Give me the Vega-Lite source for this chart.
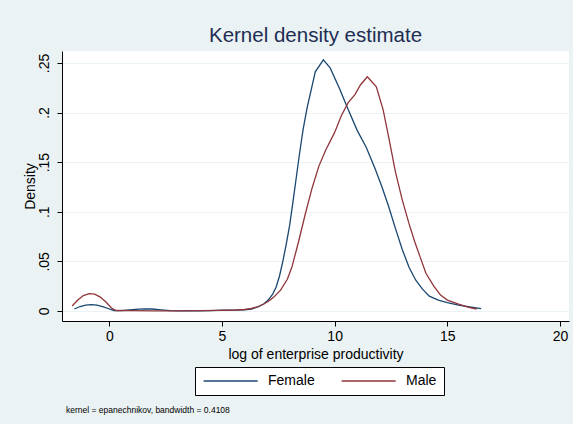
{
  "$schema": "https://vega.github.io/schema/vega-lite/v6.json",
  "background": "#EAF2F3",
  "padding": {"left": 23, "top": 25, "right": 4, "bottom": 10},
  "title": {"text": "kernel = epanechnikov, bandwidth = 0.4108", "orient": "bottom", "anchor": "start", "frame": "group", "dx": 4, "offset": 10, "fontSize": 8.5, "font": "Liberation Sans", "fontWeight": "normal", "color": "#000000"},
  "config": {
    "font": "Liberation Sans",
    "view": {"fill": "#FFFFFF", "stroke": null}
  },
  "vconcat": [
    {
      "title": {"text": "Kernel density estimate", "fontSize": 20.5, "font": "Liberation Sans", "fontWeight": "normal", "color": "#1E2D53", "anchor": "middle", "offset": 5},
      "width": 507,
      "height": 270,
      "data": {"values": [
        {"x": -1.55, "d": 0.002, "g": "Female"},
        {"x": -1.3, "d": 0.0045, "g": "Female"},
        {"x": -1.05, "d": 0.006, "g": "Female"},
        {"x": -0.8, "d": 0.0065, "g": "Female"},
        {"x": -0.55, "d": 0.006, "g": "Female"},
        {"x": -0.3, "d": 0.0045, "g": "Female"},
        {"x": -0.05, "d": 0.0025, "g": "Female"},
        {"x": 0.2, "d": 0.0005, "g": "Female"},
        {"x": 0.5, "d": 0.0003, "g": "Female"},
        {"x": 0.9, "d": 0.001, "g": "Female"},
        {"x": 1.3, "d": 0.0018, "g": "Female"},
        {"x": 1.6, "d": 0.0022, "g": "Female"},
        {"x": 1.9, "d": 0.002, "g": "Female"},
        {"x": 2.3, "d": 0.0012, "g": "Female"},
        {"x": 2.7, "d": 0.0004, "g": "Female"},
        {"x": 3.2, "d": 0.0002, "g": "Female"},
        {"x": 4.0, "d": 0.0002, "g": "Female"},
        {"x": 4.5, "d": 0.0004, "g": "Female"},
        {"x": 5.0, "d": 0.0008, "g": "Female"},
        {"x": 5.5, "d": 0.0008, "g": "Female"},
        {"x": 6.0, "d": 0.0012, "g": "Female"},
        {"x": 6.3, "d": 0.002, "g": "Female"},
        {"x": 6.6, "d": 0.004, "g": "Female"},
        {"x": 6.85, "d": 0.007, "g": "Female"},
        {"x": 7.05, "d": 0.011, "g": "Female"},
        {"x": 7.25, "d": 0.017, "g": "Female"},
        {"x": 7.4, "d": 0.024, "g": "Female"},
        {"x": 7.55, "d": 0.035, "g": "Female"},
        {"x": 7.7, "d": 0.05, "g": "Female"},
        {"x": 7.85, "d": 0.067, "g": "Female"},
        {"x": 8.0, "d": 0.086, "g": "Female"},
        {"x": 8.15, "d": 0.11, "g": "Female"},
        {"x": 8.3, "d": 0.135, "g": "Female"},
        {"x": 8.45, "d": 0.16, "g": "Female"},
        {"x": 8.6, "d": 0.183, "g": "Female"},
        {"x": 8.78, "d": 0.205, "g": "Female"},
        {"x": 9.14, "d": 0.241, "g": "Female"},
        {"x": 9.5, "d": 0.253, "g": "Female"},
        {"x": 9.8, "d": 0.245, "g": "Female"},
        {"x": 10.2, "d": 0.225, "g": "Female"},
        {"x": 10.6, "d": 0.203, "g": "Female"},
        {"x": 11.0, "d": 0.182, "g": "Female"},
        {"x": 11.4, "d": 0.165, "g": "Female"},
        {"x": 11.8, "d": 0.143, "g": "Female"},
        {"x": 12.1, "d": 0.125, "g": "Female"},
        {"x": 12.4, "d": 0.105, "g": "Female"},
        {"x": 12.7, "d": 0.083, "g": "Female"},
        {"x": 13.0, "d": 0.062, "g": "Female"},
        {"x": 13.3, "d": 0.044, "g": "Female"},
        {"x": 13.6, "d": 0.031, "g": "Female"},
        {"x": 13.9, "d": 0.022, "g": "Female"},
        {"x": 14.2, "d": 0.015, "g": "Female"},
        {"x": 14.6, "d": 0.011, "g": "Female"},
        {"x": 15.0, "d": 0.0085, "g": "Female"},
        {"x": 15.5, "d": 0.006, "g": "Female"},
        {"x": 16.0, "d": 0.004, "g": "Female"},
        {"x": 16.5, "d": 0.0023, "g": "Female"},
        {"x": -1.65, "d": 0.005, "g": "Male"},
        {"x": -1.4, "d": 0.011, "g": "Male"},
        {"x": -1.15, "d": 0.0155, "g": "Male"},
        {"x": -0.9, "d": 0.0175, "g": "Male"},
        {"x": -0.65, "d": 0.017, "g": "Male"},
        {"x": -0.4, "d": 0.014, "g": "Male"},
        {"x": -0.15, "d": 0.009, "g": "Male"},
        {"x": 0.1, "d": 0.003, "g": "Male"},
        {"x": 0.3, "d": 0.0005, "g": "Male"},
        {"x": 1.0, "d": 0.0003, "g": "Male"},
        {"x": 2.0, "d": 0.0002, "g": "Male"},
        {"x": 3.0, "d": 0.0002, "g": "Male"},
        {"x": 4.0, "d": 0.0003, "g": "Male"},
        {"x": 5.0, "d": 0.0006, "g": "Male"},
        {"x": 5.6, "d": 0.001, "g": "Male"},
        {"x": 6.0, "d": 0.0015, "g": "Male"},
        {"x": 6.3, "d": 0.0025, "g": "Male"},
        {"x": 6.6, "d": 0.0045, "g": "Male"},
        {"x": 6.85, "d": 0.007, "g": "Male"},
        {"x": 7.05, "d": 0.0095, "g": "Male"},
        {"x": 7.3, "d": 0.014, "g": "Male"},
        {"x": 7.6, "d": 0.021, "g": "Male"},
        {"x": 7.9, "d": 0.032, "g": "Male"},
        {"x": 8.1, "d": 0.044, "g": "Male"},
        {"x": 8.4, "d": 0.07, "g": "Male"},
        {"x": 8.7, "d": 0.098, "g": "Male"},
        {"x": 9.0, "d": 0.124, "g": "Male"},
        {"x": 9.3, "d": 0.146, "g": "Male"},
        {"x": 9.6, "d": 0.162, "g": "Male"},
        {"x": 10.0, "d": 0.18, "g": "Male"},
        {"x": 10.3, "d": 0.197, "g": "Male"},
        {"x": 10.6, "d": 0.21, "g": "Male"},
        {"x": 10.9, "d": 0.218, "g": "Male"},
        {"x": 11.15, "d": 0.228, "g": "Male"},
        {"x": 11.45, "d": 0.236, "g": "Male"},
        {"x": 11.65, "d": 0.231, "g": "Male"},
        {"x": 11.85, "d": 0.226, "g": "Male"},
        {"x": 12.15, "d": 0.203, "g": "Male"},
        {"x": 12.4, "d": 0.175, "g": "Male"},
        {"x": 12.7, "d": 0.14, "g": "Male"},
        {"x": 13.0, "d": 0.112, "g": "Male"},
        {"x": 13.3, "d": 0.088, "g": "Male"},
        {"x": 13.55, "d": 0.07, "g": "Male"},
        {"x": 13.8, "d": 0.054, "g": "Male"},
        {"x": 14.05, "d": 0.038, "g": "Male"},
        {"x": 14.4, "d": 0.025, "g": "Male"},
        {"x": 14.7, "d": 0.016, "g": "Male"},
        {"x": 15.0, "d": 0.011, "g": "Male"},
        {"x": 15.5, "d": 0.007, "g": "Male"},
        {"x": 16.0, "d": 0.0035, "g": "Male"},
        {"x": 16.3, "d": 0.002, "g": "Male"}
      ]},
      "mark": {"type": "line", "strokeWidth": 1.3, "interpolate": "linear"},
      "encoding": {
        "x": {"field": "x", "type": "quantitative",
              "scale": {"domain": [-2.1, 20.4], "nice": false, "zero": false},
              "axis": {"values": [0, 5, 10, 15, 20], "title": "log of enterprise productivity", "grid": false,
                       "domainColor": "#000000", "tickColor": "#000000", "tickSize": 5, "labelPadding": 3,
                       "labelFontSize": 14, "labelColor": "#000000", "titleFontSize": 14, "titleFontWeight": "normal",
                       "titleColor": "#000000", "titlePadding": 4, "labelFlush": false}},
        "y": {"field": "d", "type": "quantitative",
              "scale": {"domain": [-0.0101, 0.262], "nice": false, "zero": false},
              "axis": {"values": [0, 0.05, 0.1, 0.15, 0.2, 0.25], "title": "Density",
                       "labelExpr": "replace(format(datum.value, '~g'), /^0\\./, '.')",
                       "labelAngle": -90, "labelAlign": "center", "labelBaseline": "bottom",
                       "grid": true, "gridColor": "#EAF2F3", "gridWidth": 1.2,
                       "domainColor": "#000000", "tickColor": "#000000", "tickSize": 5, "labelPadding": 6,
                       "labelFontSize": 14, "labelColor": "#000000", "titleFontSize": 14, "titleFontWeight": "normal",
                       "titleColor": "#000000", "titlePadding": 0, "labelFlush": false}},
        "color": {"field": "g", "type": "nominal",
                  "scale": {"domain": ["Female", "Male"], "range": ["#1A476F", "#90353B"]},
                  "legend": {"title": null, "orient": "none", "legendX": 133, "legendY": 316, "direction": "horizontal",
                             "symbolType": "M-1,0H9", "symbolSize": 117, "symbolStrokeWidth": 1.3, "symbolFillColor": "transparent",
                             "labelFontSize": 14, "labelColor": "#000000", "labelOffset": 52, "columnPadding": 23,
                             "fillColor": "#FFFFFF", "strokeColor": "#000000", "padding": 7, "cornerRadius": 0}}
      }
    }
  ]
}
